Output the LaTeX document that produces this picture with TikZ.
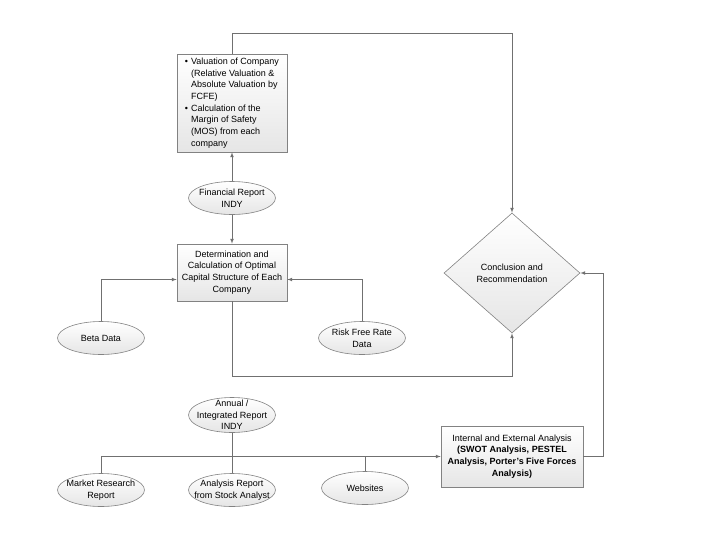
\documentclass[tikz,border=0pt]{standalone}
\usepackage{fontspec}
\setmainfont{Liberation Sans}
\usetikzlibrary{positioning}
\usetikzlibrary{arrows}
\usetikzlibrary{shapes}
\definecolor{linegray}{RGB}{112,112,112}
\definecolor{edgegray}{RGB}{130,130,130}
\tikzset{
        flownode/.style={align=center, font=\fontsize{9}{11.7}\selectfont, draw=edgegray, line width=0.6pt, top color=white, bottom color=black!10},
        % Process boxes
        node_process/.style={flownode, rectangle, minimum width=110pt, inner sep=0pt},
        % Data sources
        node_source/.style={flownode, ellipse, minimum width=87pt, minimum height=33pt, inner sep=-12pt},
        % Decision
        node_decision/.style={flownode, diamond, minimum width=136pt, minimum height=120pt, inner sep=0pt},
        % Connectors
        flowline/.style={draw=linegray, line width=0.7pt}
}

\begin{document}
\begin{tikzpicture}[x=1pt, y=-1pt, >=latex]
            \useasboundingbox (0,0) rectangle (724,542);
            \node[node_process, minimum height=98pt] (valuation) at (232,103) {%
                \begin{tabular}{@{}l@{\hspace{3pt}}l@{}}
                    \textbullet & Valuation of Company\\
                                & (Relative Valuation \&\\
                                & Absolute Valuation by\\
                                & FCFE)\\
                    \textbullet & Calculation of the\\
                                & Margin of Safety\\
                                & (MOS) from each\\
                                & company
                \end{tabular}};
            \node[node_source] (financial) at (232,198) {Financial Report\\INDY};
            \node[node_process, minimum height=57pt] (optimal) at (232,272.5) {Determination and\\Calculation of Optimal\\Capital Structure of Each\\Company};
            \node[node_source] (beta) at (101,338) {Beta Data};
            \node[node_source] (riskfree) at (362,338) {Risk Free Rate\\Data};
            \node[node_decision] (conclusion) at (512,273) {Conclusion and\\Recommendation};
            \node[node_source, minimum height=35pt] (annual) at (232,415) {Annual /\\Integrated Report\\INDY};
            \node[node_process, minimum width=142pt, minimum height=61pt] (analysis) at (512,456.5) {Internal and External Analysis\\\textbf{(SWOT Analysis, PESTEL}\\\textbf{Analysis, Porter's Five Forces}\\\textbf{Analysis)}};
            \node[node_source] (market) at (101,490) {Market Research\\Report};
            \node[node_source] (stockanalyst) at (232,490) {Analysis Report\\from Stock Analyst};
            \node[node_source] (websites) at (365,488) {Websites};

            \coordinate (topturn) at (232,33);
            \coordinate (lowturn) at (232,376);
            \coordinate (sideturn) at (603,456.5);
            \coordinate (busstart) at (101,456.5);

            % valuation feeds the conclusion
            \draw[flowline, ->] (valuation.north) -- (topturn) -| (conclusion.north);
            \draw[flowline, ->] (financial.north) -- (valuation.south);
            \draw[flowline, ->] (financial.south) -- (optimal.north);
            \draw[flowline, ->] (beta.north) |- ([yshift=-7pt]optimal.west);
            \draw[flowline, ->] (riskfree.north) |- ([yshift=-7pt]optimal.east);
            \draw[flowline, ->] (optimal.south) -- (lowturn) -| (conclusion.south);
            % analysis feeds the conclusion
            \draw[flowline, ->] (analysis.east) -- (sideturn) |- (conclusion.east);
            \draw[flowline, ->] (market.north) -- (busstart) -- (analysis.west);
            \draw[flowline] (annual.south) -- (stockanalyst.north);
            \draw[flowline] (websites.north) -- (websites.north |- busstart);
\end{tikzpicture}
\end{document}
